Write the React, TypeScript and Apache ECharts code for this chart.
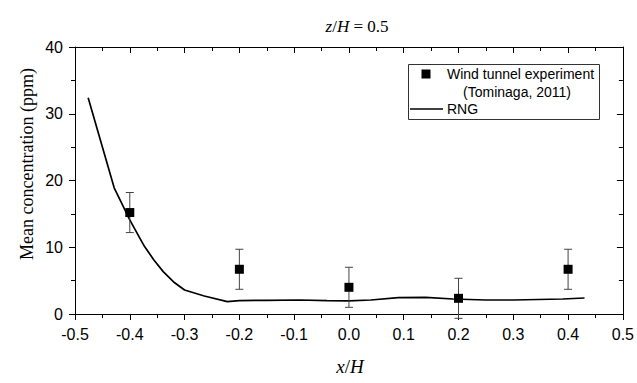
import React, { useEffect, useRef } from "react";
import * as echarts from "echarts";

// RNG simulation line (x/H, concentration ppm)
const rngX = [-0.476, -0.4285, -0.4, -0.386, -0.373, -0.356, -0.339, -0.32, -0.3, -0.264, -0.222, -0.2, -0.15, -0.09, -0.04, 0.0, 0.04, 0.09, 0.14, 0.19, 0.25, 0.3, 0.39, 0.43];
const rngY = [32.4, 18.9, 14.1, 12.0, 10.1, 8.1, 6.35, 4.8, 3.6, 2.7, 1.85, 2.0, 2.05, 2.1, 2.0, 1.98, 2.1, 2.45, 2.5, 2.25, 2.1, 2.1, 2.25, 2.4];

// Wind tunnel experiment (Tominaga, 2011)
const expX = [-0.4, -0.2, 0.0, 0.2, 0.4];
const expY = [15.2, 6.7, 4.0, 2.35, 6.7];
const expErr = [3.0, 3.0, 3.0, 3.0, 3.0];

const xTicks = { min: -0.5, max: 0.5, interval: 0.1 };
const yTicks = { min: 0, max: 40, interval: 10 };

const SANS = "Liberation Sans, Arial, sans-serif";
const SERIF = "Liberation Serif, Times New Roman, serif";

export default function App() {
  const ref = useRef<HTMLDivElement>(null);
  useEffect(() => {
    document.body.style.margin = "0";
    if (!ref.current) return;
    const chart = echarts.init(ref.current, undefined, { renderer: "svg" });
    const axisLine = { show: true, lineStyle: { color: "#000", width: 1 } };
    const baseX = {
      type: "value" as const,
      min: xTicks.min,
      max: xTicks.max,
      interval: xTicks.interval,
      splitLine: { show: false },
      minorSplitLine: { show: false },
      axisLine: { ...axisLine, onZero: false },
    };
    const baseY = {
      type: "value" as const,
      min: yTicks.min,
      max: yTicks.max,
      interval: yTicks.interval,
      splitLine: { show: false },
      minorSplitLine: { show: false },
      axisLine: { ...axisLine, onZero: false },
    };
    chart.setOption({
      animation: false,
      backgroundColor: "#fff",
      title: {
        text: "{i|z}/{i|H} = 0.5",
        left: 352,
        top: 13,
        textAlign: "center",
        textStyle: {
          fontFamily: SERIF,
          fontSize: 17,
          fontWeight: "normal",
          color: "#000",
          rich: { i: { fontFamily: SERIF, fontSize: 17, fontStyle: "italic", color: "#000" } },
        },
      },
      grid: { left: 75, right: 12, top: 47, bottom: 69 },
      xAxis: [
        {
          ...baseX,
          position: "bottom",
          axisTick: { show: true, inside: false, length: 6, lineStyle: { color: "#000" } },
          minorTick: { show: true, splitNumber: 2, length: 4, lineStyle: { color: "#000" } },
          axisLabel: {
            formatter: (v: number) => v.toFixed(1),
            fontFamily: SANS,
            fontSize: 16,
            color: "#000",
            margin: 12,
          },
        },
        {
          ...baseX,
          position: "top",
          axisTick: { show: true, inside: true, length: 6, lineStyle: { color: "#000" } },
          minorTick: { show: true, splitNumber: 2, length: 4, lineStyle: { color: "#000" } },
          axisLabel: { show: false },
        },
      ],
      yAxis: [
        {
          ...baseY,
          position: "left",
          axisTick: { show: true, inside: false, length: 6, lineStyle: { color: "#000" } },
          minorTick: { show: true, splitNumber: 2, length: 4, lineStyle: { color: "#000" } },
          axisLabel: { fontFamily: SANS, fontSize: 16, color: "#000", margin: 12 },
        },
        {
          ...baseY,
          position: "right",
          axisTick: { show: true, inside: true, length: 6, lineStyle: { color: "#000" } },
          minorTick: { show: true, splitNumber: 2, length: 4, lineStyle: { color: "#000" } },
          axisLabel: { show: false },
        },
      ],
      graphic: [
        {
          type: "text",
          x: 27,
          y: 164,
          rotation: Math.PI / 2,
          style: {
            text: "Mean concentration (ppm)",
            fontFamily: SERIF,
            fontSize: 18,
            fill: "#000",
            textAlign: "center",
            textVerticalAlign: "middle",
          },
        },
        {
          type: "text",
          x: 350,
          y: 366,
          style: {
            text: "{i|x}/{i|H}",
            fontFamily: SERIF,
            fontSize: 19,
            fill: "#000",
            textAlign: "center",
            textVerticalAlign: "middle",
            rich: { i: { fontFamily: SERIF, fontSize: 19, fontStyle: "italic" } },
          },
        },
        {
          type: "rect",
          shape: { x: 408.5, y: 64.5, width: 191, height: 55 },
          style: { fill: "#fff", stroke: "#333", lineWidth: 1 },
          z: 100,
        },
        {
          type: "rect",
          shape: { x: 421.5, y: 69.5, width: 9, height: 9 },
          style: { fill: "#000" },
          z: 101,
        },
        {
          type: "text",
          x: 447,
          y: 74,
          style: { text: "Wind tunnel experiment", fontFamily: SANS, fontSize: 14, fill: "#000", textVerticalAlign: "middle" },
          z: 101,
        },
        {
          type: "text",
          x: 517,
          y: 92,
          style: { text: "(Tominaga, 2011)", fontFamily: SANS, fontSize: 14, fill: "#000", textAlign: "center", textVerticalAlign: "middle" },
          z: 101,
        },
        {
          type: "line",
          shape: { x1: 410, y1: 109, x2: 443, y2: 109 },
          style: { stroke: "#000", lineWidth: 1.6 },
          z: 101,
        },
        {
          type: "text",
          x: 447,
          y: 109,
          style: { text: "RNG", fontFamily: SANS, fontSize: 14, fill: "#000", textVerticalAlign: "middle" },
          z: 101,
        },
      ],
      series: [
        {
          type: "line",
          name: "RNG",
          data: rngX.map((x, i) => [x, rngY[i]]),
          showSymbol: false,
          symbol: "none",
          lineStyle: { color: "#000", width: 1.7 },
          z: 2,
        },
        {
          type: "custom",
          name: "error",
          data: expX.map((x, i) => [x, expY[i], expErr[i]]),
          clip: false,
          renderItem: (params: any, api: any) => {
            const x = api.value(0);
            const y = api.value(1);
            const e = api.value(2);
            const top = api.coord([x, y + e]);
            const bot = api.coord([x, y - e]);
            const w = 4;
            const st = { stroke: "#444", lineWidth: 1 };
            return {
              type: "group",
              children: [
                { type: "line", shape: { x1: top[0], y1: top[1], x2: bot[0], y2: bot[1] }, style: st },
                { type: "line", shape: { x1: top[0] - w, y1: top[1], x2: top[0] + w, y2: top[1] }, style: st },
                { type: "line", shape: { x1: bot[0] - w, y1: bot[1], x2: bot[0] + w, y2: bot[1] }, style: st },
              ],
            };
          },
          z: 3,
        },
        {
          type: "scatter",
          name: "Wind tunnel experiment",
          data: expX.map((x, i) => [x, expY[i]]),
          symbol: "rect",
          symbolSize: 9,
          itemStyle: { color: "#000", opacity: 1 },
          z: 4,
        },
      ],
    });
    return () => chart.dispose();
  }, []);
  return <div ref={ref} style={{ width: 637, height: 383 }} />;
}
